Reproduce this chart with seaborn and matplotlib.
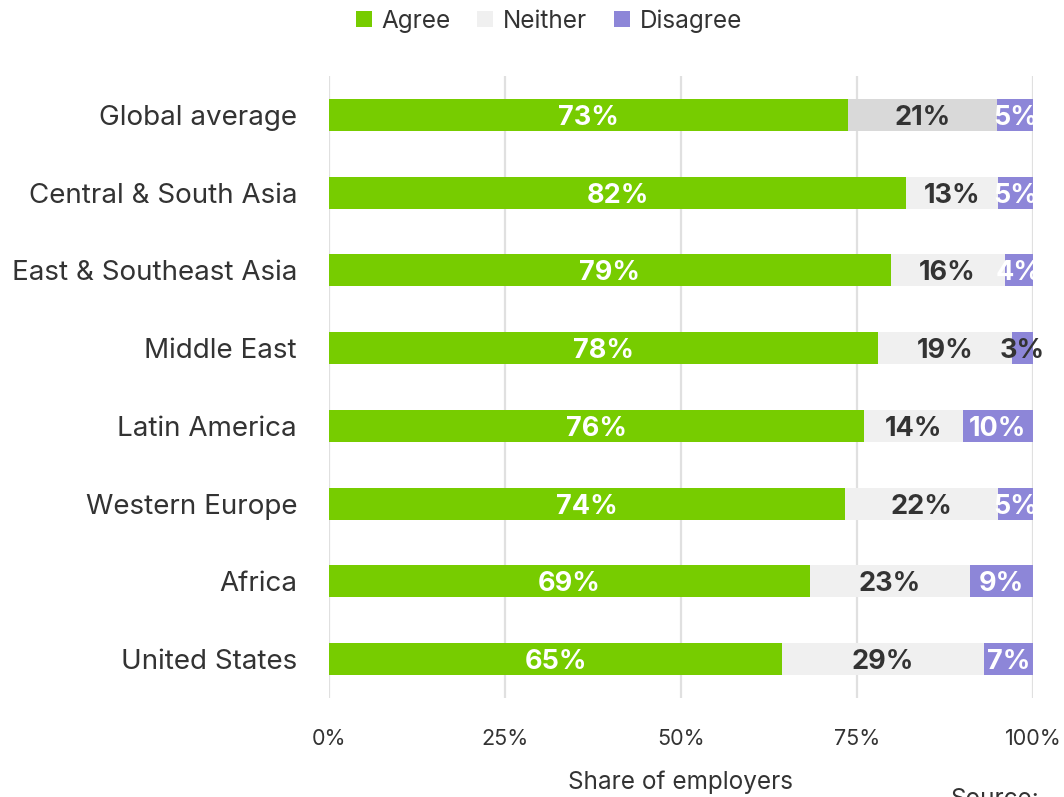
import matplotlib
matplotlib.use("Agg")
import matplotlib.pyplot as plt
from matplotlib.lines import Line2D
import pandas as pd
import seaborn as sns

# Survey shares by region (percent of employers)
regions = [
    "Global average",
    "Central & South Asia",
    "East & Southeast Asia",
    "Middle East",
    "Latin America",
    "Western Europe",
    "Africa",
    "United States",
]
agree = [73, 82, 79, 78, 76, 74, 69, 65]
neither = [21, 13, 16, 19, 14, 22, 23, 29]
disagree = [5, 5, 4, 3, 10, 5, 9, 7]

GREEN = "#77cc00"
GREY = "#f0f0f0"
GREY_HL = "#d9d9d9"
PURPLE = "#8d86d8"
TEXT = "#333333"

sns.set_theme(style="white")
plt.rcParams["font.family"] = ["Inter", "DejaVu Sans"]

df = pd.DataFrame({"region": regions, "agree": agree,
                   "neither": neither, "disagree": disagree})
total = df[["agree", "neither", "disagree"]].sum(axis=1)
df["agree_end"] = df["agree"] / total * 100
df["neither_end"] = (df["agree"] + df["neither"]) / total * 100
df["disagree_end"] = 100.0

fig = plt.figure(figsize=(10.64, 7.97), dpi=100)
ax = fig.add_axes([329 / 1064, 1 - 698 / 797, (1033 - 329) / 1064, (698 - 76) / 797])

bar_w = 0.41
# Stack by overdrawing cumulative widths, outermost first
sns.barplot(data=df, y="region", x="disagree_end", color=PURPLE,
            width=bar_w, saturation=1, ax=ax, linewidth=0)
neither_pal = {r: (GREY_HL if r == "Global average" else GREY) for r in regions}
sns.barplot(data=df, y="region", x="neither_end", hue="region",
            palette=neither_pal, legend=False, width=bar_w, saturation=1,
            ax=ax, linewidth=0)
sns.barplot(data=df, y="region", x="agree_end", color=GREEN,
            width=bar_w, saturation=1, ax=ax, linewidth=0)

# Segment labels
lab_kw = dict(ha="center", va="center_baseline", fontsize=19.5, fontweight="bold")
for i, row in df.iterrows():
    a0, a1 = 0, row["agree_end"]
    n1 = row["neither_end"]
    ax.text((a0 + a1) / 2, i, f"{row['agree']}%", color="white", **lab_kw)
    ax.text((a1 + n1) / 2, i, f"{row['neither']}%", color=TEXT, **lab_kw)
    d_col = TEXT if row["disagree"] <= 3 else "white"
    ax.text((n1 + 100) / 2, i, f"{row['disagree']}%", color=d_col,
            clip_on=False, **lab_kw)

ax.set_xlim(0, 100)
ax.set_ylim(len(regions) - 0.5, -0.5)
ax.set_xticks([0, 25, 50, 75, 100])
ax.set_xticklabels(["0%", "25%", "50%", "75%", "100%"])
ax.tick_params(axis="x", length=0, pad=22, labelsize=15.5, labelcolor=TEXT)
ax.tick_params(axis="y", length=0, pad=23, labelsize=20, labelcolor=TEXT)
ax.xaxis.grid(True, color="#e0e0e0", linewidth=1.6)
ax.set_axisbelow(True)
for s in ax.spines.values():
    s.set_visible(False)
ax.set_ylabel("")
ax.set_xlabel("Share of employers", fontsize=17.5, color=TEXT, labelpad=16)

# Legend across the top
handles = [Line2D([], [], marker="s", linestyle="", markersize=11,
                  markerfacecolor=c, markeredgewidth=0)
           for c in (GREEN, GREY, PURPLE)]
fig.legend(handles, ["Agree", "Neither", "Disagree"], loc="center",
           bbox_to_anchor=(548 / 1064, 1 - 21 / 797), ncol=3, frameon=False,
           fontsize=17.5, labelcolor=TEXT, handlelength=0.8, handletextpad=0.35,
           columnspacing=1.0)

fig.text(950 / 1064, 1 - 788 / 797, "Source:", fontsize=17.5, color=TEXT,
         ha="left", va="top")

fig.savefig("out.png", dpi=100)
